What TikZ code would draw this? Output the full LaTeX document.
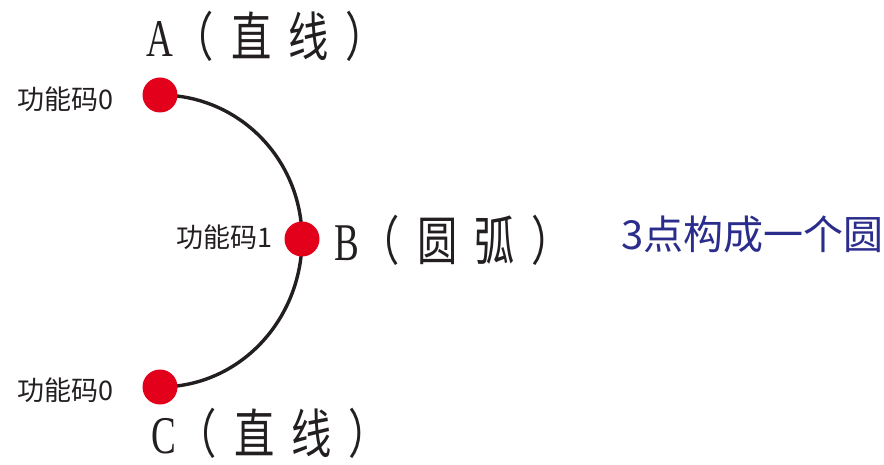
\documentclass[tikz,border=0pt]{standalone}
\usepackage{fontspec}
\newfontfamily\cjk{Noto Sans CJK SC}
\newfontfamily\cjkn[FakeStretch=0.76]{Noto Sans CJK SC}
\newfontfamily\latn[FakeStretch=0.7]{Liberation Serif}
\newcommand\gapx{\hspace{17pt}}
\definecolor{dotred}{HTML}{E2001A}
\definecolor{linedark}{HTML}{231F20}
\definecolor{navy}{HTML}{2B2D8C}
\begin{document}
\begin{tikzpicture}[x=1pt,y=-1pt,
  pt/.style={circle,fill=dotred,minimum size=35pt,inner sep=0pt},
  biglab/.style={inner sep=0pt,anchor=west,font=\fontsize{53}{53}\selectfont,text=linedark},
  codelab/.style={inner sep=0pt,anchor=west,font=\cjk\fontsize{27}{27}\selectfont,text=linedark},
  arcline/.style={draw=linedark,line width=3.4pt}]
\useasboundingbox (0,0) rectangle (884,465);
\fill[white] (0,0) rectangle (884,465);
\coordinate (A) at (160,95);
\coordinate (B) at (302,239);
\coordinate (C) at (160,387);
\draw[arcline] (A) to[out=0,in=90] (B) to[out=-90,in=0] (C);
\node[pt] (pa) at (A) {};
\node[pt] (pb) at (B) {};
\node[pt] (pc) at (C) {};
\node[biglab] (la) at (146,36) {\latn A\cjkn\hspace{1pt}（\gapx 直\gapx 线\gapx ）};
\node[biglab] (lb) at (334,240) {\latn B\cjkn\hspace{1pt}（\gapx 圆\gapx 弧\gapx ）};
\node[biglab] (lc) at (151,433) {\latn C\cjkn\hspace{1pt}（\gapx 直\gapx 线\gapx ）};
\node[codelab] (ca) at (17,99) {功能码0};
\node[codelab] (cb) at (176,237) {功能码1};
\node[codelab] (cc) at (17,390) {功能码0};
\node[inner sep=0pt,anchor=west,font=\cjk\fontsize{40}{40}\selectfont,text=navy] (note) at (621,234) {3点构成一个圆};
\end{tikzpicture}
\end{document}
